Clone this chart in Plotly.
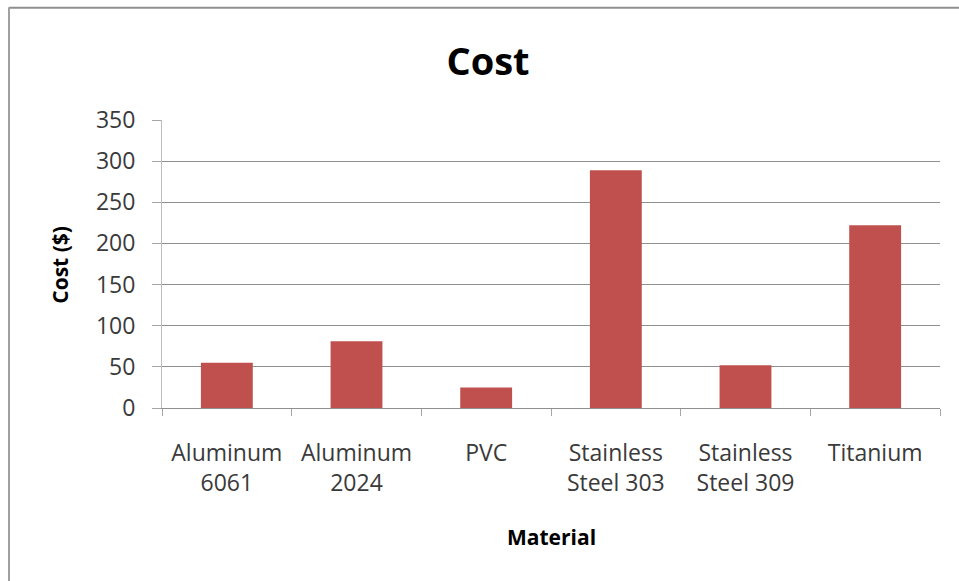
import plotly.graph_objects as go

# Material cost data
materials = [
    "Aluminum<br>6061",
    "Aluminum<br>2024",
    "PVC",
    "Stainless<br>Steel 303",
    "Stainless<br>Steel 309",
    "Titanium",
]
cost = [55, 81, 25, 289, 52, 222]
y_ticks = [0, 50, 100, 150, 200, 250, 300, 350]

W, H = 959, 581
PL, PR, PT, PB = 162, 940, 120, 408.5  # plot area in pixels


def px_x(px):
    return (px - PL) / (PR - PL)


def px_y(py):
    return (PB - py) / (PB - PT)


fig = go.Figure(
    go.Bar(
        x=materials,
        y=cost,
        marker=dict(color="#C0504D", line=dict(width=0)),
        hoverinfo="x+y",
    )
)

font_family = "Open Sans, DejaVu Sans, sans-serif"

fig.update_layout(
    width=W,
    height=H,
    margin=dict(l=PL, r=W - PR, t=PT, b=H - PB, pad=0),
    paper_bgcolor="white",
    plot_bgcolor="white",
    bargap=0.6,
    showlegend=False,
    font=dict(family=font_family, color="#3a3a3a", size=23),
    title=dict(
        text="<b>Cost</b>",
        x=488 / W,
        xanchor="center",
        y=1 - 62 / H,
        yanchor="middle",
        font=dict(family=font_family, size=38, color="black"),
    ),
    xaxis=dict(
        type="category",
        tickson="boundaries",
        ticks="outside",
        ticklen=7,
        tickcolor="#a6a6a6",
        showline=True,
        linecolor="#909090",
        linewidth=1,
        showgrid=False,
        tickfont=dict(size=23, color="#3a3a3a"),
        ticklabelstandoff=24,
    ),
    yaxis=dict(
        range=[0, 350],
        tickvals=y_ticks,
        ticktext=[str(v) for v in y_ticks],
        ticks="outside",
        ticklen=9,
        tickcolor="#a6a6a6",
        showline=True,
        linecolor="#bdbdbd",
        linewidth=1,
        showgrid=True,
        gridcolor="#909090",
        gridwidth=1,
        zeroline=False,
        tickfont=dict(size=23, color="#3a3a3a"),
        ticklabelstandoff=12,
    ),
    annotations=[
        dict(
            text="<b>Material</b>",
            xref="paper", yref="paper",
            x=px_x(551), y=px_y(538),
            xanchor="center", yanchor="middle",
            showarrow=False,
            font=dict(size=21, color="black", family=font_family),
        ),
        dict(
            text="<b>Cost ($)</b>",
            xref="paper", yref="paper",
            x=px_x(60), y=px_y(265),
            xanchor="center", yanchor="middle",
            textangle=-90,
            showarrow=False,
            font=dict(size=21, color="black", family=font_family),
        ),
    ],
    shapes=[
        # chart frame (top and left edges)
        dict(type="line", xref="paper", yref="paper",
             x0=px_x(9), x1=px_x(W + 5), y0=px_y(7.5), y1=px_y(7.5),
             line=dict(color="#8f8f8f", width=2), layer="above"),
        dict(type="line", xref="paper", yref="paper",
             x0=px_x(9), x1=px_x(9), y0=px_y(7), y1=px_y(H + 5),
             line=dict(color="#a0a0a0", width=2), layer="above"),
    ],
)

fig.write_html("out.html")
